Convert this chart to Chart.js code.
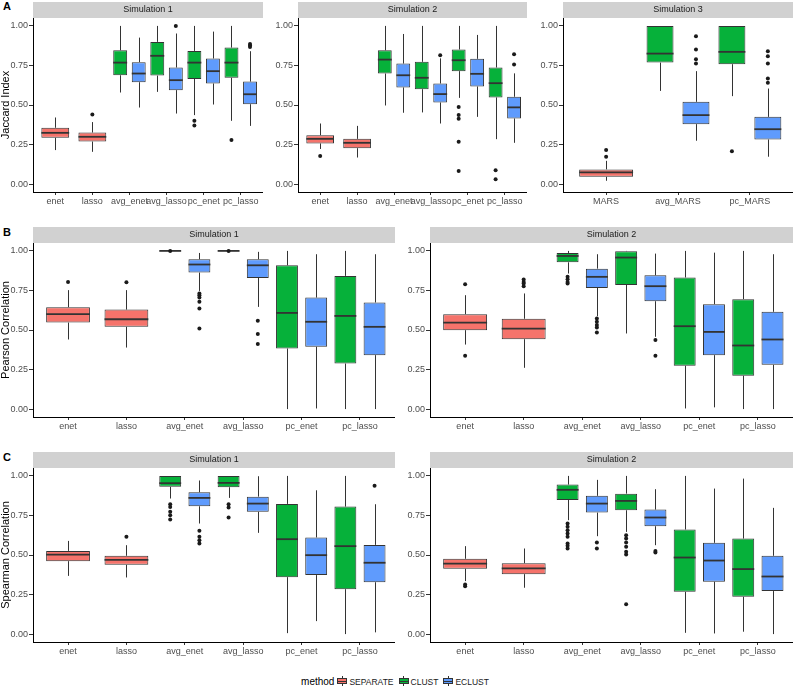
<!DOCTYPE html>
<html>
<head>
<meta charset="utf-8">
<title>Simulation boxplots</title>
<script src="https://cdn.jsdelivr.net/npm/chart.js@4.4.1/dist/chart.umd.min.js"></script>
<style>
  body { margin: 0; background: #fff; }
  #page { position: relative; width: 795px; height: 688px; overflow: hidden; font-family: "Liberation Sans", Arial, sans-serif; }
  #page canvas { position: absolute; }
  .tag { position: absolute; left: 3px; font-size: 11px; font-weight: bold; line-height: 12px; }
  #legend { position: absolute; left: 0; width: 795px; top: 676px; text-align: center; font-size: 8.5px; line-height: 12px; color: #1a1a1a; white-space: nowrap; }
  #legend .ttl { font-size: 10px; margin-right: 3px; color: #000; }
  #legend .item { margin-right: 5px; }
  .key { position: relative; display: inline-block; width: 10px; height: 10px; vertical-align: -1px; margin-right: 2px; }
  .key b { position: absolute; left: 4.5px; top: 0; bottom: 0; width: 1px; background: #333; }
  .key i { position: absolute; left: 0; right: 0; top: 2px; bottom: 2px; border: 1px solid #333; box-sizing: border-box; }
  .key i:after { content: ""; position: absolute; left: 0; right: 0; top: 2px; height: 1px; background: #333; }
</style>
</head>
<body>
<div id="page">
  <div class="tag" style="top:0">A</div>
  <div class="tag" style="top:226px">B</div>
  <div class="tag" style="top:451px">C</div>

  <canvas id="jac1" width="263" height="208" style="left:0;top:0"></canvas>
  <canvas id="jac2" width="259" height="208" style="left:268px;top:0"></canvas>
  <canvas id="jac3" width="260" height="208" style="left:533px;top:0"></canvas>

  <canvas id="pear1" width="395" height="208" style="left:0;top:225px"></canvas>
  <canvas id="pear2" width="393" height="208" style="left:400px;top:225px"></canvas>

  <canvas id="spear1" width="395" height="208" style="left:0;top:450px"></canvas>
  <canvas id="spear2" width="393" height="208" style="left:400px;top:450px"></canvas>

  <div id="legend"></div>
</div>
<script>
var fontFamily = '"Liberation Sans", Arial, sans-serif';

var methods = ['SEPARATE', 'CLUST', 'ECLUST'];
var methodColors = ['#F5736B', '#06B13A', '#5F9BFD'];
var fitLabels = ['enet', 'lasso', 'avg_enet', 'avg_lasso', 'pc_enet', 'pc_lasso'];
var marsLabels = ['MARS', 'avg_MARS', 'pc_MARS'];

// each box: [lower whisker, q1, median, q3, upper whisker]

// A - Jaccard index, simulation 1
var jac1Sep = [[0.215, 0.293, 0.324, 0.356, 0.421], [0.204, 0.269, 0.299, 0.326, 0.392], null, null, null, null];
var jac1SepOut = [[], [0.44], [], [], [], []];
var jac1Clust = [null, null, [0.579, 0.688, 0.768, 0.846, 1.0], [0.583, 0.686, 0.811, 0.899, 1.0], [0.436, 0.665, 0.768, 0.842, 1.0], [0.40, 0.672, 0.768, 0.863, 1.0]];
var jac1ClustOut = [[], [], [], [], [0.40, 0.371], [0.278]];
var jac1Eclust = [null, null, [0.484, 0.644, 0.699, 0.771, 0.926], [0.446, 0.594, 0.657, 0.737, 0.952], [0.503, 0.636, 0.714, 0.794, 0.964], [0.368, 0.505, 0.568, 0.648, 0.84]];
var jac1EclustOut = [[], [], [], [1.0], [], [0.886, 0.876, 0.867]];

// A - Jaccard index, simulation 2
var jac2Sep = [[0.222, 0.257, 0.286, 0.309, 0.383], [0.168, 0.227, 0.261, 0.286, 0.368], null, null, null, null];
var jac2SepOut = [[0.177], [], [], [], [], []];
var jac2Clust = [null, null, [0.497, 0.699, 0.787, 0.846, 1.0], [0.453, 0.60, 0.672, 0.773, 1.0], [0.545, 0.714, 0.783, 0.851, 1.0], [0.284, 0.548, 0.638, 0.737, 1.0]];
var jac2ClustOut = [[], [], [], [], [0.488, 0.436, 0.413, 0.267, 0.082], [0.088, 0.03]];
var jac2Eclust = [null, null, [0.451, 0.611, 0.688, 0.762, 0.949], [0.383, 0.516, 0.569, 0.636, 0.795], [0.425, 0.617, 0.697, 0.792, 0.943], [0.261, 0.415, 0.485, 0.552, 0.70]];
var jac2EclustOut = [[], [], [], [0.815], [], [0.821, 0.756]];

// A - Jaccard index, simulation 3
var jac3Sep = [[0.021, 0.046, 0.074, 0.093, 0.147], null, null];
var jac3SepOut = [[0.215, 0.173], [], []];
var jac3Clust = [null, [0.589, 0.768, 0.825, 1.0, 1.0], [0.556, 0.758, 0.836, 1.0, 1.0]];
var jac3ClustOut = [[], [], [0.208]];
var jac3Eclust = [null, [0.274, 0.379, 0.436, 0.52, 0.714], [0.173, 0.282, 0.347, 0.425, 0.604]];
var jac3EclustOut = [[], [0.935, 0.851, 0.789, 0.762], [0.84, 0.808, 0.762, 0.667, 0.64]];

// B - Pearson correlation, simulation 1
var pear1Sep = [[0.44, 0.547, 0.60, 0.644, 0.752], [0.389, 0.52, 0.568, 0.629, 0.752], null, null, null, null];
var pear1SepOut = [[0.804], [0.802], [], [], [], []];
var pear1Clust = [null, null, [1.0, 1.0, 1.0, 1.0, 1.0], [1.0, 1.0, 1.0, 1.0, 1.0], [0.0, 0.383, 0.608, 0.909, 1.0], [0.0, 0.288, 0.589, 0.842, 1.0]];
var pear1ClustOut = [[], [], [0.999], [0.999], [], []];
var pear1Eclust = [null, null, [0.747, 0.863, 0.914, 0.947, 0.987], [0.646, 0.829, 0.909, 0.947, 0.994], [0.004, 0.394, 0.552, 0.705, 0.979], [0.0, 0.341, 0.52, 0.674, 0.979]];
var pear1EclustOut = [[], [], [0.731, 0.72, 0.705, 0.678, 0.636, 0.509], [0.558, 0.474, 0.411], [], []];

// B - Pearson correlation, simulation 2
var pear2Sep = [[0.408, 0.499, 0.547, 0.60, 0.72], [0.261, 0.442, 0.509, 0.571, 0.731], null, null, null, null];
var pear2SepOut = [[0.789, 0.337], [0.819, 0.804, 0.794, 0.777], [], [], [], []];
var pear2Clust = [null, null, [0.857, 0.928, 0.968, 0.987, 1.0], [0.478, 0.785, 0.958, 0.998, 1.0], [0.004, 0.274, 0.524, 0.832, 1.0], [0.0, 0.211, 0.402, 0.695, 1.0]];
var pear2ClustOut = [[], [], [0.836, 0.821, 0.804, 0.794], [], [], []];
var pear2Eclust = [null, null, [0.587, 0.766, 0.836, 0.888, 0.979], [0.457, 0.682, 0.777, 0.846, 0.983], [0.011, 0.341, 0.488, 0.663, 0.989], [0.0, 0.28, 0.44, 0.615, 0.979]];
var pear2EclustOut = [[], [], [0.573, 0.552, 0.531, 0.516, 0.484], [0.436, 0.337], [], []];

// C - Spearman correlation, simulation 1
var spear1Sep = [[0.368, 0.461, 0.503, 0.526, 0.589], [0.358, 0.438, 0.469, 0.495, 0.562], null, null, null, null];
var spear1SepOut = [[], [0.615], [], [], [], []];
var spear1Clust = [null, null, [0.857, 0.931, 0.954, 1.0, 1.0], [0.861, 0.928, 0.956, 1.0, 1.0], [0.006, 0.36, 0.60, 0.823, 1.0], [0.0, 0.284, 0.556, 0.806, 1.0]];
var spear1ClustOut = [[], [], [0.821, 0.804, 0.773, 0.752, 0.724], [0.821, 0.80, 0.737], [], []];
var spear1Eclust = [null, null, [0.699, 0.808, 0.861, 0.897, 0.971], [0.64, 0.773, 0.825, 0.869, 0.998], [0.082, 0.373, 0.499, 0.611, 0.909], [0.011, 0.328, 0.451, 0.564, 0.821]];
var spear1EclustOut = [[], [], [0.653, 0.615, 0.594, 0.573], [], [], [0.937]];

// C - Spearman correlation, simulation 2
var spear2Sep = [[0.335, 0.413, 0.446, 0.476, 0.556], [0.293, 0.379, 0.415, 0.448, 0.541], null, null, null, null];
var spear2SepOut = [[0.313, 0.303], [], [], [], [], []];
var spear2Clust = [null, null, [0.72, 0.848, 0.912, 0.945, 1.0], [0.646, 0.783, 0.842, 0.888, 1.0], [0.008, 0.267, 0.484, 0.661, 1.0], [0.015, 0.236, 0.411, 0.604, 0.983]];
var spear2ClustOut = [[], [], [0.699, 0.678, 0.657, 0.636, 0.615, 0.573, 0.558, 0.541], [0.625, 0.604, 0.579, 0.552, 0.52, 0.503, 0.189], [], []];
var spear2Eclust = [null, null, [0.619, 0.768, 0.825, 0.874, 0.975], [0.562, 0.682, 0.737, 0.787, 0.916], [0.004, 0.331, 0.465, 0.577, 0.92], [0.0, 0.272, 0.364, 0.495, 0.798]];
var spear2EclustOut = [[], [], [0.579, 0.541], [0.526, 0.516], [], []];

// whiskers, median and outlier dots on top of the floating bars
var boxParts = {
    id: 'boxParts',
    afterDatasetsDraw: function (chart) {
        var ctx = chart.ctx;
        var yScale = chart.scales.y;
        ctx.save();
        chart.data.datasets.forEach(function (ds, di) {
            chart.getDatasetMeta(di).data.forEach(function (bar, i) {
                var s = ds.stats[i];
                if (!s) {
                    return;
                }
                var half = bar.width / 2;
                var cx = Math.round(bar.x) + 0.5;
                ctx.strokeStyle = '#333333';
                ctx.lineWidth = 1;
                ctx.beginPath();
                ctx.moveTo(cx, yScale.getPixelForValue(s[3]));
                ctx.lineTo(cx, yScale.getPixelForValue(s[4]));
                ctx.moveTo(cx, yScale.getPixelForValue(s[1]));
                ctx.lineTo(cx, yScale.getPixelForValue(s[0]));
                ctx.stroke();
                // median
                var my = yScale.getPixelForValue(s[2]);
                ctx.lineWidth = 1.8;
                ctx.beginPath();
                ctx.moveTo(bar.x - half, my);
                ctx.lineTo(bar.x + half, my);
                ctx.stroke();
                // outliers
                ctx.fillStyle = '#1a1a1a';
                ds.outliers[i].forEach(function (v) {
                    ctx.beginPath();
                    ctx.arc(bar.x, yScale.getPixelForValue(v), 2, 0, Math.PI * 2);
                    ctx.fill();
                });
            });
        });
        ctx.restore();
    }
};

// grey facet strip behind the title
var stripBg = {
    id: 'stripBg',
    beforeDraw: function (chart) {
        var a = chart.chartArea;
        var t = chart.titleBlock;
        chart.ctx.save();
        chart.ctx.fillStyle = '#d1d1d1';
        chart.ctx.fillRect(a.left, t.top, a.right - a.left, a.top - t.top);
        chart.ctx.restore();
    }
};

function boxData(stats) {
    return stats.map(function (s, i) {
        return { x: i, y: s ? [s[1], s[3]] : null };
    });
}

function axisGrid(len) {
    return { display: true, drawOnChartArea: false, drawTicks: true, tickLength: len, color: '#333333', lineWidth: 1, offset: false };
}

function drawPanel(canvasId, labels, stats, outs, strip, yTitle, yWidth) {
    var datasets = [];
    for (var m = 0; m < methods.length; m++) {
        datasets.push({
            label: methods[m],
            data: boxData(stats[m]),
            stats: stats[m],
            outliers: outs[m],
            backgroundColor: methodColors[m],
            borderColor: '#333333',
            borderWidth: 1,
            borderSkipped: false,
            skipNull: true,
            categoryPercentage: 1,
            barPercentage: 0.75
        });
    }
    return new Chart(document.getElementById(canvasId), {
        type: 'bar',
        data: { datasets: datasets },
        plugins: [stripBg, boxParts],
        options: {
            responsive: false,
            animation: false,
            devicePixelRatio: 1,
            layout: { padding: { top: 2, left: 0, right: 0, bottom: 0 } },
            plugins: {
                legend: { display: false },
                tooltip: { enabled: false },
                title: {
                    display: true,
                    text: strip,
                    fullSize: false,
                    color: '#1a1a1a',
                    font: { family: fontFamily, size: 9, weight: 'normal', lineHeight: '10px' },
                    padding: { top: 3, bottom: 3 }
                }
            },
            scales: {
                x: {
                    type: 'linear',
                    min: -0.6,
                    max: labels.length - 0.4,
                    offset: false,
                    grid: axisGrid(3),
                    border: { display: true, color: '#000000', width: 1 },
                    ticks: {
                        stepSize: 1,
                        includeBounds: false,
                        autoSkip: false,
                        maxRotation: 0,
                        padding: 1,
                        color: '#4d4d4d',
                        font: { family: fontFamily, size: 9 },
                        callback: function (v) { return labels[v]; }
                    },
                    afterFit: function (scale) { scale.height = 16; }
                },
                y: {
                    min: -0.05,
                    max: 1.05,
                    grid: axisGrid(4),
                    border: { display: true, color: '#000000', width: 1 },
                    ticks: {
                        stepSize: 0.25,
                        includeBounds: false,
                        padding: 1,
                        color: '#4d4d4d',
                        font: { family: fontFamily, size: 9 },
                        callback: function (v) { return v.toFixed(2); }
                    },
                    title: {
                        display: !!yTitle,
                        text: yTitle,
                        color: '#000000',
                        font: { family: fontFamily, size: 11, lineHeight: 1.1 },
                        padding: { top: 0, bottom: 0 }
                    },
                    afterFit: function (scale) { scale.width = yWidth; }
                }
            }
        }
    });
}

drawPanel('jac1', fitLabels, [jac1Sep, jac1Clust, jac1Eclust], [jac1SepOut, jac1ClustOut, jac1EclustOut], 'Simulation 1', 'Jaccard Index', 33);
drawPanel('jac2', fitLabels, [jac2Sep, jac2Clust, jac2Eclust], [jac2SepOut, jac2ClustOut, jac2EclustOut], 'Simulation 2', '', 30);
drawPanel('jac3', marsLabels, [jac3Sep, jac3Clust, jac3Eclust], [jac3SepOut, jac3ClustOut, jac3EclustOut], 'Simulation 3', '', 30);
drawPanel('pear1', fitLabels, [pear1Sep, pear1Clust, pear1Eclust], [pear1SepOut, pear1ClustOut, pear1EclustOut], 'Simulation 1', 'Pearson Correlation', 33);
drawPanel('pear2', fitLabels, [pear2Sep, pear2Clust, pear2Eclust], [pear2SepOut, pear2ClustOut, pear2EclustOut], 'Simulation 2', '', 30);
drawPanel('spear1', fitLabels, [spear1Sep, spear1Clust, spear1Eclust], [spear1SepOut, spear1ClustOut, spear1EclustOut], 'Simulation 1', 'Spearman Correlation', 33);
drawPanel('spear2', fitLabels, [spear2Sep, spear2Clust, spear2Eclust], [spear2SepOut, spear2ClustOut, spear2EclustOut], 'Simulation 2', '', 30);

// legend below the panels
var legendHtml = '<span class="ttl">method</span>';
for (var k = 0; k < methods.length; k++) {
    legendHtml += '<span class="item"><span class="key"><b></b><i style="background-color:' + methodColors[k] + '"></i></span>' + methods[k] + '</span>';
}
document.getElementById('legend').innerHTML = legendHtml;
</script>
</body>
</html>
